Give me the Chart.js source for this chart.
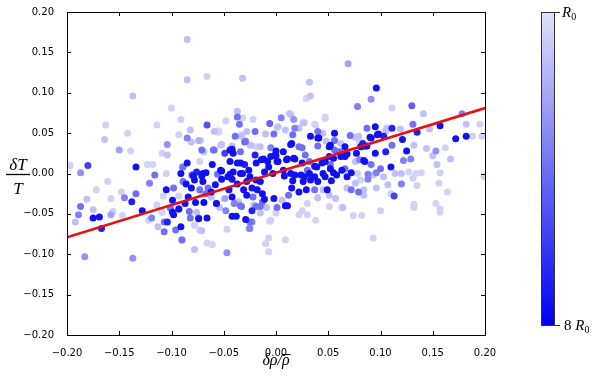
<!DOCTYPE html>
<html>
<head>
<meta charset="utf-8">
<script src="https://cdn.jsdelivr.net/npm/chart.js@4"></script>
<style>
    html, body { margin: 0; padding: 0; background: #fff; }
    #wrap { width: 600px; height: 377px; }
</style>
</head>
<body>
<div id="wrap"><canvas id="chart" width="600" height="377"></canvas></div>
<script>
// Tick positions for both axes
const xTickValues = [-0.20, -0.15, -0.10, -0.05, 0.00, 0.05, 0.10, 0.15, 0.20];
const yTickValues = [-0.20, -0.15, -0.10, -0.05, 0.00, 0.05, 0.10, 0.15, 0.20];

// Scatter points: delta rho / rho (x), delta T / T (y), radius in units of R0 (colour)
const xVals = [
    -0.085,-0.085,-0.066,-0.032,-0.137,-0.100,-0.163,-0.114,-0.091,-0.164,
    -0.142,-0.150,-0.139,-0.104,-0.109,-0.104,-0.066,-0.082,-0.085,-0.093,
    -0.074,-0.069,-0.059,-0.055,-0.048,-0.052,-0.042,-0.049,-0.037,-0.037,
    -0.035,-0.032,-0.039,-0.033,-0.029,-0.034,-0.022,-0.020,-0.024,-0.006,
    -0.010,-0.002,0.001,-0.015,-0.005,0.000,-0.012,-0.005,0.000,-0.007,
    0.001,-0.019,-0.044,-0.034,-0.030,-0.041,-0.032,-0.026,-0.061,-0.052,
    -0.067,-0.076,-0.056,-0.085,-0.091,-0.090,-0.080,-0.123,-0.134,-0.105,
    -0.116,-0.180,-0.187,-0.197,0.069,0.032,0.033,0.029,0.096,0.091,
    0.078,0.111,0.130,0.141,0.178,0.182,0.195,0.157,0.131,0.135,
    0.121,0.111,0.119,0.106,0.095,0.097,0.103,0.087,0.090,0.079,
    0.071,0.083,0.132,0.144,0.153,0.162,0.172,0.182,0.188,0.197,
    0.167,0.150,0.154,0.157,0.125,0.129,0.122,0.105,0.095,0.110,
    0.100,0.114,0.139,0.134,0.120,0.078,0.072,0.088,0.080,0.085,
    0.077,0.068,0.066,0.061,0.056,0.056,0.051,0.045,0.040,0.040,
    0.033,0.038,0.047,0.026,0.022,0.018,0.014,0.005,0.017,0.009,
    0.014,0.025,0.028,0.007,-0.008,0.017,0.011,0.032,0.037,0.044,
    0.051,0.052,0.062,0.066,0.055,0.063,0.045,0.032,0.024,0.014,
    0.008,-0.003,-0.183,-0.137,-0.192,-0.189,-0.187,-0.175,-0.169,-0.167,
    -0.175,-0.181,-0.172,-0.161,-0.158,-0.158,-0.156,-0.148,-0.145,-0.147,
    -0.138,-0.134,-0.128,-0.122,-0.119,-0.121,-0.113,-0.114,-0.107,-0.107,
    -0.104,-0.109,-0.108,-0.105,-0.098,-0.099,-0.096,-0.091,-0.090,-0.093,
    -0.093,-0.089,-0.087,-0.084,-0.082,-0.078,-0.076,-0.074,-0.071,-0.077,
    -0.073,-0.069,-0.066,-0.066,-0.061,-0.067,-0.062,-0.057,-0.054,-0.048,
    -0.047,-0.047,-0.042,-0.038,-0.040,-0.034,-0.029,-0.026,-0.023,-0.023,
    -0.019,-0.015,-0.010,-0.007,-0.007,-0.006,-0.013,-0.002,0.000,-0.086,
    -0.081,-0.078,-0.079,-0.071,-0.070,-0.065,-0.058,-0.052,-0.046,-0.042,
    -0.037,-0.045,-0.042,-0.049,-0.031,-0.028,-0.023,-0.022,-0.019,-0.021,
    -0.033,-0.036,-0.057,-0.099,-0.093,-0.098,-0.083,-0.074,-0.073,-0.078,
    -0.090,-0.101,-0.062,-0.070,-0.028,-0.025,-0.018,-0.025,-0.025,-0.028,
    -0.033,-0.030,-0.025,-0.042,-0.044,-0.053,-0.060,-0.055,-0.059,-0.072,
    -0.071,-0.081,-0.073,-0.089,-0.081,-0.070,-0.053,-0.037,-0.044,-0.034,
    -0.020,-0.118,-0.019,-0.041,0.002,0.013,0.027,0.037,0.047,0.040,
    0.041,0.048,0.052,0.062,0.076,0.080,0.016,0.015,0.022,-0.001,
    -0.014,0.002,0.010,0.018,0.007,-0.011,0.025,0.030,0.039,0.047,
    0.055,0.052,0.058,0.066,0.064,0.076,0.081,0.056,0.018,0.027,
    0.037,0.047,0.147,0.105,0.098,0.091,0.111,0.084,0.087,0.084,
    0.091,0.093,0.103,0.127,-0.015,-0.013,-0.011,-0.015,-0.009,0.001,
    0.006,0.011,0.012,0.015,0.022,0.029,0.016,0.026,0.033,0.037,
    0.040,0.040,0.045,0.049,0.051,0.053,0.057,0.064,0.068,0.068,
    0.072,0.076,0.081,0.079,0.084,0.051,0.030,0.025,0.030,0.022,
    0.038,0.074,0.082,0.009,0.093,0.113,0.100,0.132,0.132,0.153,
    0.157,0.157,0.164,0.156,0.135,0.120,0.107,0.110,0.131,0.199,
    0.096,0.063,0.009,-0.005,0.088,0.096,0.084
];
const yVals = [
    0.166,0.116,0.120,0.118,0.096,0.081,0.060,0.060,0.067,0.042,
    0.050,0.029,0.028,0.036,0.025,0.023,0.060,0.054,0.044,0.048,
    0.041,0.027,0.029,0.053,0.065,0.036,0.030,0.025,0.077,0.070,
    0.061,0.069,0.046,0.046,0.040,0.027,0.067,0.052,0.035,0.062,
    0.049,0.049,0.057,0.033,0.032,0.028,0.018,0.021,0.022,0.008,
    0.015,0.013,0.015,0.013,0.011,0.002,0.000,0.004,0.011,0.003,
    0.001,0.002,-0.001,0.013,0.000,0.008,-0.002,0.011,0.008,0.000,
    -0.002,0.010,0.001,0.010,0.136,0.113,0.096,0.093,0.106,0.092,
    0.083,0.081,0.084,0.074,0.074,0.061,0.061,0.059,0.061,0.051,
    0.042,0.056,0.055,0.056,0.058,0.048,0.046,0.056,0.045,0.046,
    0.047,0.037,0.035,0.031,0.028,0.032,0.043,0.046,0.046,0.046,
    0.018,0.022,0.011,0.001,0.028,0.018,0.016,0.027,0.025,0.008,
    0.006,0.000,0.001,0.000,0.000,0.000,0.001,-0.001,0.017,0.015,
    0.025,0.024,0.033,0.027,0.050,0.041,0.033,0.050,0.044,0.034,
    0.046,0.060,0.068,0.063,0.056,0.056,0.073,0.069,0.067,0.054,
    0.036,0.032,0.023,0.027,0.015,0.019,0.018,0.015,0.009,0.013,
    0.021,0.011,0.021,0.021,0.001,0.004,0.000,0.000,-0.002,0.000,
    -0.003,0.000,-0.103,-0.105,-0.060,-0.051,-0.041,-0.055,-0.054,-0.068,
    -0.045,-0.032,-0.020,-0.010,-0.031,-0.051,-0.047,-0.023,-0.030,-0.052,
    -0.035,-0.025,-0.046,-0.058,-0.055,-0.012,-0.066,-0.039,-0.072,-0.060,
    -0.060,-0.048,-0.028,-0.020,-0.018,-0.048,-0.070,-0.066,-0.083,-0.044,
    -0.028,-0.010,-0.037,-0.029,-0.055,-0.094,-0.048,-0.056,-0.071,-0.036,
    -0.020,-0.036,-0.055,-0.086,-0.088,-0.025,-0.023,-0.037,-0.042,-0.046,
    -0.069,-0.098,-0.053,-0.053,-0.037,-0.040,-0.057,-0.068,-0.060,-0.046,
    -0.041,-0.049,-0.087,-0.080,-0.097,-0.059,-0.035,-0.031,-0.049,-0.013,
    -0.018,-0.008,-0.003,-0.003,-0.010,-0.018,-0.014,-0.007,-0.004,-0.007,
    -0.013,-0.020,-0.029,-0.031,-0.020,-0.027,-0.018,-0.029,-0.008,-0.039,
    -0.041,-0.035,-0.037,-0.033,-0.044,-0.051,-0.047,-0.055,-0.070,-0.064,
    -0.082,-0.043,-0.029,-0.026,-0.010,-0.004,-0.020,-0.060,-0.068,0.052,
    0.048,0.039,0.035,0.034,0.029,0.035,0.029,0.051,0.052,0.041,
    0.029,0.039,0.015,0.008,-0.002,0.000,0.004,0.013,-0.001,0.000,
    0.023,0.011,0.033,0.025,0.058,0.074,0.063,0.061,0.070,0.052,
    0.044,0.040,0.035,0.037,0.045,0.039,0.048,0.037,0.033,0.023,
    0.017,0.015,0.017,0.018,0.004,0.002,0.013,0.004,0.008,0.015,
    0.019,0.006,-0.002,0.006,0.022,0.015,0.033,0.029,-0.002,-0.004,
    -0.004,-0.004,0.055,0.053,0.049,0.044,0.035,0.033,0.034,0.016,
    0.011,-0.002,-0.004,0.002,-0.010,-0.025,-0.032,-0.041,-0.042,-0.042,
    -0.033,-0.040,-0.027,-0.018,-0.023,-0.020,-0.009,-0.010,-0.008,-0.020,
    -0.010,-0.030,-0.020,-0.020,-0.027,-0.009,-0.031,-0.042,-0.004,-0.018,
    -0.020,-0.012,-0.008,-0.023,-0.020,-0.041,-0.037,-0.046,-0.051,-0.051,
    -0.058,-0.052,-0.052,-0.082,-0.080,-0.028,-0.046,-0.038,-0.042,-0.037,
    -0.044,-0.048,-0.023,-0.012,-0.015,-0.013,-0.014,-0.025,-0.006,-0.004,
    0.001,-0.042,-0.040,-0.058,-0.007,-0.018,-0.027
];
const depthVals = [
    2,2,1.5,2,2,1.5,1.5,1.5,1.5,2,
    1.5,3,1.5,3.5,1.5,2,5.5,2,4,1.5,
    2.5,2,4,1.5,1.5,2,7.5,6,2,4.5,
    4.5,1.5,4.5,2,4,4.5,1.5,4.5,2,5,
    2,4.5,1.5,2,4,7.5,7.5,7.5,7,7.5,
    7.5,7.5,7.5,7.5,7,7.5,7.5,7.5,7.5,7.5,
    7.5,7,4.5,7.5,7.5,2,6,1.5,7.5,1.5,
    4.5,6,3.5,1.5,3,2,2,1.5,7.5,3.5,
    4,1.5,5,2,4,2,1.5,7.5,4.5,7,
    7.5,7,2,2,7.5,7.5,7,4.5,7.5,2,
    4.5,7,2,2,3.5,1.5,7.5,7.5,1.5,1.5,
    2,2,2,1.5,7.5,4,4,7,7.5,7.5,
    4.5,2,1.5,1.5,2,1.5,7.5,4,4,7.5,
    7.5,7.5,7.5,4.5,7.5,4.5,7.5,2,7.5,4.5,
    7.5,1.5,1.5,2,2,4,2,4,3.5,2,
    7.5,4.5,4.5,7.5,7.5,7.5,7.5,4.5,7.5,7.5,
    7.5,4.5,7.5,7.5,7.5,7.5,7.5,7.5,7.5,7.5,
    7.5,7.5,3.5,3.5,2,4,4.5,7.5,7.5,7,
    2,2,1.5,1.5,1.5,3,1.5,1.5,4,1.5,
    7,4.5,7.5,1.5,4,4,2,1.5,4.5,4.5,
    7,1.5,1.5,7.5,4.5,7.5,4.5,7.5,2,4.5,
    1.5,4.5,7.5,7.5,4.5,2,2,7.5,2,7.5,
    4.5,7.5,7.5,1.5,1.5,4.5,7.5,4.5,2,4,
    1.5,3.5,7.5,7.5,4,4.5,7.5,2,4,7,
    4.5,2,1.5,1.5,1.5,1.5,4.5,7.5,1.5,7.5,
    7.5,7.5,7.5,7.5,7.5,4.5,7.5,7.5,7.5,7.5,
    7.5,7.5,7.5,3,7.5,7.5,7.5,4.5,7.5,2,
    4.5,2,7.5,7.5,7.5,7.5,4.5,4.5,1.5,1.5,
    4.5,4.5,2,2,7.5,7.5,7.5,4.5,4,2,
    1.5,4.5,1.5,2,7.5,1.5,4.5,1.5,2,1.5,
    4.5,2,1.5,4.5,2,7.5,7.5,7.5,7.5,7.5,
    7,1.5,1.5,7.5,2,2,2,1.5,1.5,4.5,
    7.5,2,7.5,2,2,1.5,4.5,7.5,4.5,7.5,
    7.5,7.5,7.5,7.5,7.5,7.5,7.5,4.5,7.5,7.5,
    7.5,7.5,7.5,4.5,4.5,2,7.5,4.5,7.5,7.5,
    7.5,7.5,2,2,7.5,7.5,4.5,4.5,7.5,7.5,
    4.5,2,2,1.5,7.5,7.5,7.5,4.5,2,4.5,
    2,7.5,4.5,7.5,7.5,7.5,7.5,7.5,7.5,4.5,
    7.5,2,2,7.5,2,7.5,2,2,7.5,2,
    4.5,2,1.5,4.5,2,1.5,1.5,1.5,1.5,1.5,
    1.5,1.5,1.5,1.5,1.5,6,1.5,1.5,1.5,1.5,
    1.5,1.5,1.5,1.5,1.5,4,2,1.5,1.5,1.5,
    4,1.5,7.5,1.5,4,2,2
];

// Fitted red line, end points
const fitX = [-0.20, 0.20];
const fitY = [-0.079, 0.081];

// Colour bar range (R0 .. 8 R0)
const depthMin = 1;
const depthMax = 8;

// white-ish lavender at R0 to full blue at 8 R0
function depthColor(d) {
    const t = (d - depthMin) / (depthMax - depthMin);
    const a = 0.1 + 0.9 * t;
    const c = Math.round(250 * (1 - a));
    const b = Math.round(250 - 8 * t);
    return `rgb(${c},${c},${b})`;
}

function fmtTick(v) {
    if (Math.abs(v) < 1e-9) return '0.00';
    return v.toFixed(2).replace('-', '\u2212');
}

// Light points first so dark ones sit on top
const nPts = Math.min(xVals.length, yVals.length, depthVals.length);
const order = [];
for (let i = 0; i < nPts; i++) order.push(i);
order.sort((a, b) => depthVals[a] - depthVals[b]);

const scatterData = order.map(i => ({ x: xVals[i], y: yVals[i] }));
const scatterColors = order.map(i => depthColor(depthVals[i]));
const fitData = fitX.map((x, i) => ({ x: x, y: fitY[i] }));

// Frame, inward ticks, axis labels and colour bar
const decorPlugin = {
    id: 'decor',
    afterDraw(chart) {
        const ctx = chart.ctx;
        const a = chart.chartArea;
        const xs = chart.scales.x;
        const ys = chart.scales.y;
        ctx.save();

        ctx.strokeStyle = '#000';
        ctx.lineWidth = 1;
        ctx.strokeRect(a.left + 0.5, a.top + 0.5, a.right - a.left, a.bottom - a.top);

        ctx.beginPath();
        xTickValues.forEach(v => {
            const px = Math.round(xs.getPixelForValue(v)) + 0.5;
            ctx.moveTo(px, a.bottom); ctx.lineTo(px, a.bottom - 4);
            ctx.moveTo(px, a.top); ctx.lineTo(px, a.top + 4);
        });
        yTickValues.forEach(v => {
            const py = Math.round(ys.getPixelForValue(v)) + 0.5;
            ctx.moveTo(a.left, py); ctx.lineTo(a.left + 4, py);
            ctx.moveTo(a.right, py); ctx.lineTo(a.right - 4, py);
        });
        ctx.stroke();

        // x label: delta rho / rho-bar
        ctx.fillStyle = '#000';
        ctx.textBaseline = 'alphabetic';
        ctx.font = 'italic 16px "Liberation Serif", serif';
        const xl = '\u03b4\u03c1/\u03c1';
        const xw = ctx.measureText(xl).width;
        const xl0 = (a.left + a.right) / 2 - xw / 2;
        ctx.textAlign = 'left';
        ctx.fillText(xl, xl0, 365);
        const rhoW = ctx.measureText('\u03c1').width;
        ctx.beginPath();
        ctx.moveTo(xl0 + xw - rhoW, 354.5);
        ctx.lineTo(xl0 + xw + 1, 354.5);
        ctx.stroke();

        // y label: delta T over T-bar
        ctx.textAlign = 'center';
        ctx.font = 'italic 17px "Liberation Serif", serif';
        ctx.fillText('\u03b4T', 18, 170);
        ctx.beginPath();
        ctx.lineWidth = 1.3;
        ctx.moveTo(6, 174.5); ctx.lineTo(30, 174.5);
        ctx.stroke();
        ctx.fillText('T', 18, 194);

        // colour bar
        const cbL = 541, cbR = 555, cbT = 12, cbB = 325;
        const grad = ctx.createLinearGradient(0, cbT, 0, cbB);
        for (let k = 0; k <= 14; k++) {
            const d = depthMin + (depthMax - depthMin) * k / 14;
            grad.addColorStop(k / 14, depthColor(d));
        }
        ctx.fillStyle = grad;
        ctx.fillRect(cbL, cbT, cbR - cbL, cbB - cbT);
        ctx.lineWidth = 1;
        ctx.strokeStyle = '#333';
        ctx.strokeRect(cbL + 0.5, cbT + 0.5, cbR - cbL - 1, cbB - cbT);
        ctx.beginPath();
        ctx.moveTo(cbR, cbT + 0.5); ctx.lineTo(cbR + 5, cbT + 0.5);
        ctx.moveTo(cbR, cbB + 0.5); ctx.lineTo(cbR + 5, cbB + 0.5);
        ctx.stroke();

        ctx.fillStyle = '#000';
        ctx.textAlign = 'left';
        ctx.font = 'italic 15px "Liberation Serif", serif';
        ctx.fillText('R', 562, 17);
        let rw = ctx.measureText('R').width;
        ctx.font = '10px "Liberation Serif", serif';
        ctx.fillText('0', 562 + rw, 20);

        ctx.font = '15px "Liberation Serif", serif';
        ctx.fillText('8', 564, 330);
        const ew = ctx.measureText('8 ').width;
        ctx.font = 'italic 15px "Liberation Serif", serif';
        ctx.fillText('R', 564 + ew, 330);
        rw = ctx.measureText('R').width;
        ctx.font = '10px "Liberation Serif", serif';
        ctx.fillText('0', 564 + ew + rw, 333);

        ctx.restore();
    }
};

const tickFont = { family: '"DejaVu Sans", sans-serif', size: 10 };

new Chart(document.getElementById('chart'), {
    type: 'scatter',
    data: {
        datasets: [{
            type: 'line',
            data: fitData,
            borderColor: 'rgb(232,16,16)',
            borderWidth: 2.6,
            pointRadius: 0,
            fill: false,
            order: 0
        }, {
            data: scatterData,
            backgroundColor: scatterColors,
            borderWidth: 0,
            pointRadius: 3.5,
            order: 1
        }]
    },
    options: {
        responsive: false,
        animation: false,
        devicePixelRatio: 1,
        layout: { padding: { left: 0, right: 115, top: 12, bottom: 0 } },
        plugins: {
            legend: { display: false },
            tooltip: { enabled: false }
        },
        scales: {
            x: {
                type: 'linear',
                min: -0.2,
                max: 0.2,
                afterBuildTicks: s => { s.ticks = xTickValues.map(v => ({ value: v })); },
                afterFit: s => { s.height = 42; },
                grid: { display: false },
                border: { display: false },
                ticks: {
                    font: tickFont,
                    color: '#000',
                    padding: 4,
                    maxRotation: 0,
                    autoSkip: false,
                    callback: v => fmtTick(v)
                }
            },
            y: {
                type: 'linear',
                min: -0.2,
                max: 0.2,
                afterBuildTicks: s => { s.ticks = yTickValues.map(v => ({ value: v })); },
                afterFit: s => { s.width = 67; },
                grid: { display: false },
                border: { display: false },
                ticks: {
                    font: tickFont,
                    color: '#000',
                    padding: 5,
                    autoSkip: false,
                    callback: v => fmtTick(v)
                }
            }
        }
    },
    plugins: [decorPlugin]
});
</script>
</body>
</html>
